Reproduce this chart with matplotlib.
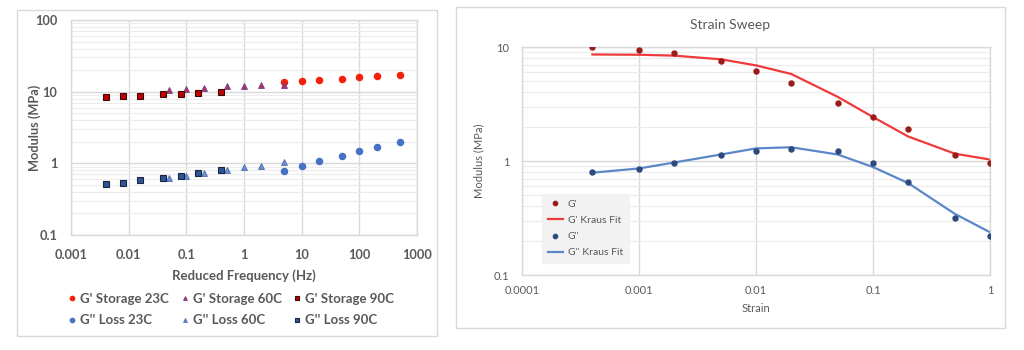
import matplotlib
matplotlib.use("Agg")
import matplotlib.pyplot as plt
from matplotlib.ticker import FixedLocator, FuncFormatter, LogLocator, NullFormatter
from matplotlib.patches import Rectangle

# ---------------- data: frequency sweep (left) ----------------
freq_23 = [5, 10, 20, 50, 100, 200, 500]
storage_23 = [13.6, 14.2, 14.4, 15.2, 15.8, 16.3, 17.1]
loss_23 = [0.79, 0.92, 1.09, 1.28, 1.47, 1.69, 2.01]

freq_60 = [0.05, 0.1, 0.2, 0.5, 1, 2, 5]
storage_60 = [10.6, 10.8, 11.1, 11.9, 12.1, 12.4, 12.5]
loss_60 = [0.62, 0.665, 0.73, 0.80, 0.88, 0.93, 1.04]

freq_90 = [0.004, 0.008, 0.016, 0.04, 0.08, 0.16, 0.4]
storage_90 = [8.3, 8.7, 8.7, 9.3, 9.3, 9.6, 9.8]
loss_90 = [0.51, 0.54, 0.58, 0.62, 0.67, 0.73, 0.82]

left_xticks = [0.001, 0.01, 0.1, 1, 10, 100, 1000]
left_yticks = [0.1, 1, 10, 100]

# ---------------- data: strain sweep (right) ----------------
strain = [0.0004, 0.001, 0.002, 0.005, 0.01, 0.02, 0.05, 0.1, 0.2, 0.5, 1]
g_prime = [9.9, 9.5, 8.9, 7.5, 6.2, 4.8, 3.2, 2.42, 1.92, 1.14, 0.96]
g_prime_fit = [8.6, 8.55, 8.4, 7.8, 6.9, 5.8, 3.65, 2.43, 1.64, 1.16, 1.03]
g_dprime = [0.80, 0.85, 0.97, 1.14, 1.22, 1.28, 1.23, 0.97, 0.66, 0.315, 0.22]
g_dprime_fit = [0.79, 0.86, 0.97, 1.14, 1.29, 1.32, 1.14, 0.885, 0.64, 0.344, 0.237]

right_xticks = [0.0001, 0.001, 0.01, 0.1, 1]
right_yticks = [0.1, 1, 10]

# ---------------- style ----------------
plt.rcParams['font.family'] = ['Lato', 'DejaVu Sans']
TXT = '#595959'
GRID = '#d9d9d9'
fmt = FuncFormatter(lambda v, p: '{:g}'.format(v))

fig = plt.figure(figsize=(10.24, 3.5), dpi=100)

# panel borders
fig.patches.append(Rectangle((17 / 1024, 1 - 336 / 350), 420 / 1024, 326 / 350,
                             transform=fig.transFigure, fill=False, edgecolor=GRID, lw=1))
fig.patches.append(Rectangle((456 / 1024, 1 - 328 / 350), 549 / 1024, 321 / 350,
                             transform=fig.transFigure, fill=False, edgecolor=GRID, lw=1))


def style_axes(ax, xticks, yticks, fs, weight, xpad, ypad):
    ax.set_xscale('log')
    ax.set_yscale('log')
    ax.set_xlim(xticks[0], xticks[-1])
    ax.set_ylim(yticks[0], yticks[-1])
    ax.xaxis.set_major_locator(FixedLocator(xticks))
    ax.yaxis.set_major_locator(FixedLocator(yticks))
    ax.xaxis.set_major_formatter(fmt)
    ax.yaxis.set_major_formatter(fmt)
    ax.xaxis.set_minor_locator(FixedLocator([]))
    ax.yaxis.set_minor_locator(LogLocator(base=10, subs=range(2, 10), numticks=20))
    ax.yaxis.set_minor_formatter(NullFormatter())
    ax.tick_params(axis='both', which='both', length=0, colors=TXT, labelsize=fs)
    ax.tick_params(axis='x', pad=xpad)
    ax.tick_params(axis='y', pad=ypad)
    for lab in ax.get_xticklabels() + ax.get_yticklabels():
        lab.set_fontweight(weight)
    ax.grid(True, which='major', axis='both', color=GRID, lw=1)
    ax.grid(True, which='minor', axis='y', color='#ececec', lw=0.8)
    ax.set_axisbelow(True)
    for s in ax.spines.values():
        s.set_color(GRID)
        s.set_linewidth(1)


# ---------------- left chart ----------------
axL = fig.add_axes([71 / 1024, 1 - 235 / 350, 346 / 1024, 215 / 350])
style_axes(axL, left_xticks, left_yticks, 9.2, 'bold', 10, 10)

h1, = axL.plot(freq_23, storage_23, 'o', ms=4.4, color='#f5200c', mec='#f5200c', label="G' Storage 23C")
h2, = axL.plot(freq_60, storage_60, '^', ms=4.0, color='#a8385f', mec='#7a3a8a', mew=0.6, label="G' Storage 60C")
h3, = axL.plot(freq_90, storage_90, 's', ms=4.6, color='#c00000', mec='#3a0a0a', mew=0.8, label="G' Storage 90C")
h4, = axL.plot(freq_23, loss_23, 'o', ms=4.4, color='#4472c4', mec='#4472c4', label="G'' Loss 23C")
h5, = axL.plot(freq_60, loss_60, '^', ms=4.0, color='#6a8cd0', mec='#4e6fb0', mew=0.6, label="G'' Loss 60C")
h6, = axL.plot(freq_90, loss_90, 's', ms=4.6, color='#2f5597', mec='#1a2540', mew=0.8, label="G'' Loss 90C")

axL.set_xlabel('Reduced Frequency (Hz)', fontsize=9.5, fontweight='bold', color=TXT, va='center')
axL.xaxis.set_label_coords(0.5, (235 - 276) / 215)
axL.set_ylabel('Modulus (MPa)', fontsize=9.2, fontweight='bold', color=TXT, va='center')
axL.yaxis.set_label_coords((35 - 71) / 346, 0.5)

order = [h1, h4, h2, h5, h3, h6]
legL = fig.legend(order, [h.get_label() for h in order],
                  ncol=3, loc='center', bbox_to_anchor=(232 / 1024, 1 - 309.5 / 350),
                  frameon=False, fontsize=9.5, handlelength=0.4, handletextpad=0.4,
                  columnspacing=1.0, labelspacing=0.75, borderpad=0, markerscale=0.7)
for t in legL.get_texts():
    t.set_color(TXT)
    t.set_fontweight('bold')

# ---------------- right chart ----------------
axR = fig.add_axes([522 / 1024, 1 - 275 / 350, 468 / 1024, 228 / 350])
style_axes(axR, right_xticks, right_yticks, 8, 'normal', 7, 9)

r1, = axR.plot(strain, g_prime, 'o', ms=3.6, color='#9b1b1b', label="G'", zorder=3)
r2, = axR.plot(strain, g_prime_fit, '-', lw=1.6, color='#ee3a3a', label="G' Kraus Fit", zorder=2)
r3, = axR.plot(strain, g_dprime, 'o', ms=3.6, color='#2e4a7d', label="G''", zorder=3)
r4, = axR.plot(strain, g_dprime_fit, '-', lw=1.6, color='#5b87c9', label="G'' Kraus Fit", zorder=2)

axR.set_xlabel('Strain', fontsize=8, color=TXT, va='center')
axR.xaxis.set_label_coords(0.5, (275 - 308) / 228)
axR.set_ylabel('Modulus (MPa)', fontsize=8, color=TXT, va='center')
axR.yaxis.set_label_coords((479 - 522) / 468, 0.5)

fig.text(730 / 1024, 1 - 25 / 350, 'Strain Sweep', ha='center', va='center',
         fontsize=10, color=TXT)

legR = axR.legend([r1, r2, r3, r4], [r.get_label() for r in [r1, r2, r3, r4]],
                  loc='upper left', bbox_to_anchor=(542 / 1024, 1 - 194 / 350),
                  bbox_transform=fig.transFigure, borderaxespad=0,
                  fontsize=7.5, handlelength=1.45, handletextpad=0.45,
                  labelspacing=0.65, borderpad=0.55, frameon=True, fancybox=False,
                  markerscale=0.85)
legR.get_frame().set_facecolor('#f2f2f2')
legR.get_frame().set_edgecolor('#f2f2f2')
legR.get_frame().set_alpha(1)
for t in legR.get_texts():
    t.set_color(TXT)

fig.savefig('out.png', dpi=100, facecolor='white')
